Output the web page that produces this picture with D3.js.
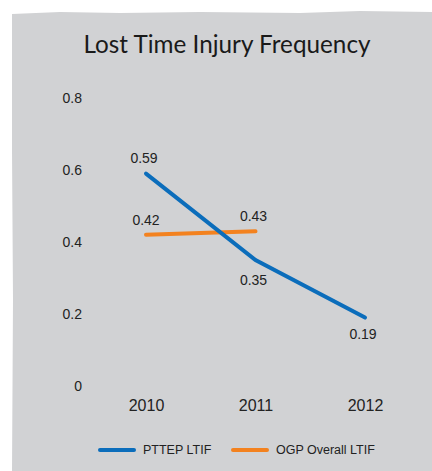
<!DOCTYPE html>
<html><head><meta charset="utf-8">
<script src="https://cdn.jsdelivr.net/npm/d3@7"></script>
<style>html,body{margin:0;padding:0;background:#fff;}svg{display:block;}</style>
</head><body>
<script>
const years = ["2010","2011","2012"];
const pttep = [0.59, 0.35, 0.19];
const ogpYears = ["2010","2011"];
const ogp = [0.42, 0.43];
const yTicks = [0, 0.2, 0.4, 0.6, 0.8];
const seriesNames = ["PTTEP LTIF", "OGP Overall LTIF"];
const colors = ["#0b6dbb", "#f3821f"];

const W = 432, H = 471;
const svg = d3.select("body").append("svg").attr("width", W).attr("height", H);
const font = "'Liberation Sans', Arial, sans-serif";
const titleFont = "Lato, 'Open Sans', sans-serif";

// gray panel
svg.append("path")
  .attr("d", "M12,14 L60,12 L120,13 L200,12 L300,13 L360,11 L432,12 L432,471 L12,471 L13,300 L12,150 Z")
  .attr("fill", "#d1d2d4");

svg.append("text").attr("x", 227).attr("y", 53).attr("text-anchor", "middle")
  .attr("font-family", titleFont).attr("font-size", 24.5).attr("font-weight", 400).attr("fill", "#1a1a1a")
  .attr("textLength", 287).attr("lengthAdjust", "spacingAndGlyphs")
  .text("Lost Time Injury Frequency");

const x = d3.scalePoint().domain(years).range([146, 365]);
const y = d3.scaleLinear().domain([0, 0.8]).range([386, 98]);

const yAxis = svg.append("g").attr("transform", "translate(82,0)")
  .call(d3.axisLeft(y).tickValues(yTicks).tickFormat(d => d === 0 ? "0" : d3.format(".1f")(d)).tickSize(0).tickPadding(0));
yAxis.select(".domain").remove();
yAxis.selectAll("text").attr("font-family", font).attr("font-size", 14).attr("fill", "#222").attr("dy", "0.32em");

const xAxis = svg.append("g").attr("transform", "translate(0,400)")
  .call(d3.axisBottom(x).tickSize(0).tickPadding(0));
xAxis.select(".domain").remove();
xAxis.selectAll("text").attr("font-family", font).attr("font-size", 16).attr("fill", "#222").attr("dy", "0.71em");

const line = d3.line().x(d => x(d[0])).y(d => y(d[1]));
const pData = years.map((yr, i) => [yr, pttep[i]]);
const oData = ogpYears.map((yr, i) => [yr, ogp[i]]);

svg.append("path").datum(oData).attr("d", line).attr("fill", "none")
  .attr("stroke", colors[1]).attr("stroke-width", 4).attr("stroke-linecap", "round");
svg.append("path").datum(pData).attr("d", line).attr("fill", "none")
  .attr("stroke", colors[0]).attr("stroke-width", 4).attr("stroke-linecap", "round");

// data labels
const pOffsets = [-16, 20, 16];
pData.forEach((d, i) => {
  svg.append("text").attr("x", x(d[0]) - 2).attr("y", y(d[1]) + pOffsets[i]).attr("text-anchor", "middle")
    .attr("font-family", font).attr("font-size", 14).attr("fill", "#222").attr("dy", "0.35em").text(d[1].toFixed(2));
});
oData.forEach((d, i) => {
  svg.append("text").attr("x", x(d[0]) + (i === 0 ? 0 : -2)).attr("y", y(d[1]) - 15).attr("text-anchor", "middle")
    .attr("font-family", font).attr("font-size", 14).attr("fill", "#222").attr("dy", "0.35em").text(d[1].toFixed(2));
});

// legend
const legX = [100, 233];
seriesNames.forEach((n, i) => {
  svg.append("line").attr("x1", legX[i]).attr("x2", legX[i] + 34).attr("y1", 450).attr("y2", 450)
    .attr("stroke", colors[i]).attr("stroke-width", 4).attr("stroke-linecap", "round");
  svg.append("text").attr("x", legX[i] + 43).attr("y", 450).attr("dy", "0.35em")
    .attr("font-family", font).attr("font-size", 12.5).attr("fill", "#222").text(n);
});
</script>
</body></html>
